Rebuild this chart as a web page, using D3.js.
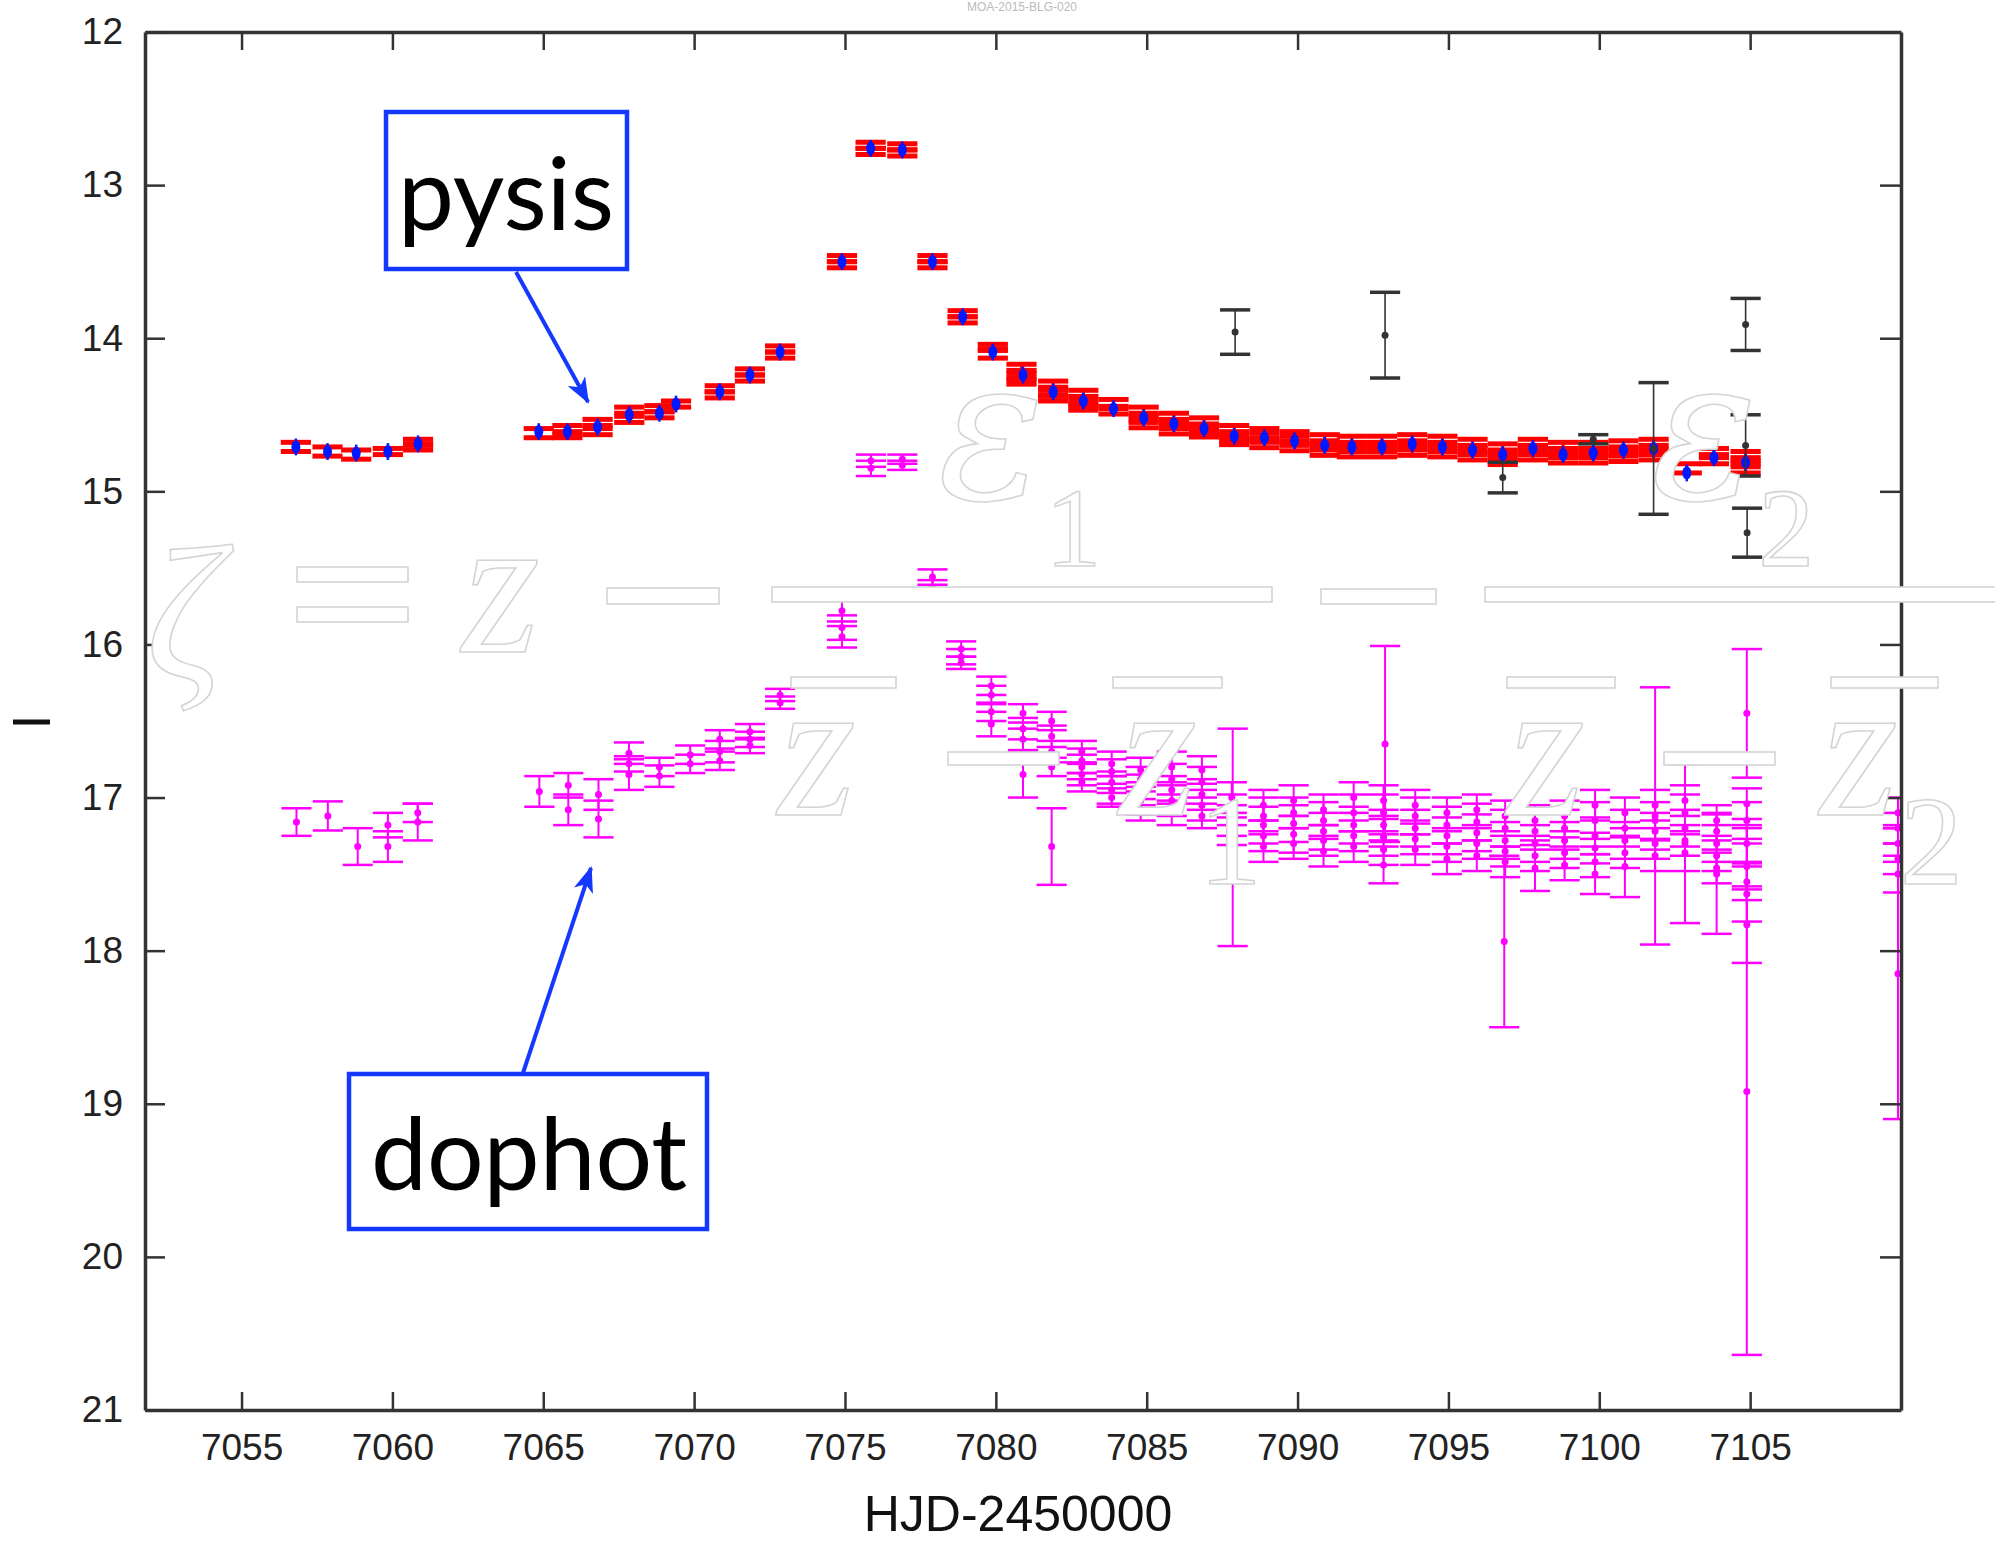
<!DOCTYPE html>
<html>
<head>
<meta charset="utf-8">
<script src="https://cdn.jsdelivr.net/npm/d3@7"></script>
<style>
  body { margin: 0; background: #fff; }
  svg { display: block; }
  .axis text { font-family: "Liberation Sans", Arial, sans-serif; font-size: 37px; fill: #222; }
  .axis line { stroke: #333; stroke-width: 2.5; }
  .axis path { stroke: #333; stroke-width: 3.5; }
</style>
</head>
<body>
<svg id="svg01" width="1995" height="1541"></svg>
<script>

// tick labels
const xTicks = [7055, 7060, 7065, 7070, 7075, 7080, 7085, 7090, 7095, 7100, 7105]
const yTicks = [12, 13, 14, 15, 16, 17, 18, 19, 20, 21]

// pysis (red) : [HJD-2450000, I, err]
const pysisRed = [
  [7056.8,14.71,0.03],[7057.85,14.74,0.03],[7058.8,14.76,0.03],[7059.85,14.74,0.02],
  [7060.85,14.68,0.02],[7060.85,14.71,0.02],
  [7064.85,14.62,0.03],[7065.8,14.60,0.03],[7065.8,14.63,0.02],
  [7066.8,14.56,0.03],[7066.8,14.60,0.03],[7067.85,14.48,0.03],[7067.85,14.52,0.03],
  [7068.85,14.46,0.02],[7068.85,14.50,0.02],[7069.4,14.43,0.02],
  [7070.85,14.33,0.02],[7070.85,14.37,0.02],[7071.85,14.22,0.02],[7071.85,14.26,0.02],
  [7072.85,14.07,0.02],[7072.85,14.11,0.02],
  [7074.9,13.48,0.02],[7074.9,13.52,0.02],[7075.85,12.74,0.02],[7075.85,12.78,0.02],
  [7076.9,12.75,0.02],[7076.9,12.79,0.02],[7077.9,13.48,0.02],[7077.9,13.52,0.02],
  [7078.9,13.84,0.02],[7078.9,13.88,0.02],[7079.9,14.06,0.02],[7079.9,14.10,0.03],
  [7080.85,14.20,0.03],[7080.85,14.24,0.03],[7080.85,14.28,0.02],
  [7081.9,14.31,0.03],[7081.9,14.35,0.03],[7081.9,14.39,0.02],
  [7082.9,14.37,0.03],[7082.9,14.41,0.03],[7082.9,14.45,0.02],
  [7083.9,14.43,0.03],[7083.9,14.47,0.025],
  [7084.9,14.48,0.03],[7084.9,14.52,0.03],[7084.9,14.56,0.025],
  [7085.9,14.52,0.03],[7085.9,14.56,0.03],[7085.9,14.60,0.025],
  [7086.9,14.55,0.03],[7086.9,14.59,0.03],[7086.9,14.62,0.025],
  [7087.9,14.60,0.03],[7087.9,14.64,0.03],[7087.9,14.67,0.025],
  [7088.9,14.62,0.03],[7088.9,14.65,0.03],[7088.9,14.69,0.025],
  [7089.9,14.64,0.03],[7089.9,14.67,0.03],[7089.9,14.71,0.025],
  [7090.9,14.66,0.03],[7090.9,14.70,0.03],[7090.9,14.74,0.025],
  [7091.8,14.67,0.03],[7091.8,14.71,0.03],[7091.8,14.75,0.025],
  [7092.8,14.67,0.03],[7092.8,14.71,0.03],[7092.8,14.75,0.025],
  [7093.8,14.66,0.03],[7093.8,14.70,0.03],[7093.8,14.74,0.025],
  [7094.8,14.67,0.03],[7094.8,14.71,0.03],[7094.8,14.75,0.025],
  [7095.8,14.69,0.03],[7095.8,14.73,0.03],[7095.8,14.77,0.025],
  [7096.8,14.72,0.03],[7096.8,14.76,0.03],[7096.8,14.80,0.025],
  [7097.8,14.69,0.03],[7097.8,14.73,0.03],[7097.8,14.77,0.025],
  [7098.8,14.71,0.03],[7098.8,14.75,0.03],[7098.8,14.79,0.025],
  [7099.8,14.71,0.03],[7099.8,14.75,0.03],[7099.8,14.79,0.025],
  [7100.8,14.70,0.03],[7100.8,14.74,0.03],[7100.8,14.78,0.025],
  [7101.8,14.69,0.03],[7101.8,14.73,0.03],[7101.8,14.77,0.025],
  [7102.9,14.85,0.03],[7103.8,14.75,0.03],[7103.8,14.79,0.03],
  [7104.85,14.77,0.03],[7104.85,14.81,0.03],[7104.85,14.85,0.03]
]

// pysis (blue) : [HJD-2450000, I]
const pysisBlue = [
  [7056.8,14.71],[7057.85,14.74],[7058.8,14.75],[7059.85,14.74],[7060.85,14.69],
  [7064.85,14.61],[7065.8,14.61],[7066.8,14.58],[7067.85,14.50],[7068.85,14.49],[7069.4,14.43],
  [7070.85,14.35],[7071.85,14.24],[7072.85,14.09],
  [7074.9,13.50],[7075.85,12.76],[7076.9,12.77],[7077.9,13.50],[7078.9,13.86],[7079.9,14.09],
  [7080.9,14.24],[7081.9,14.35],[7082.9,14.41],[7083.9,14.46],[7084.9,14.52],[7085.9,14.56],
  [7086.9,14.59],[7087.9,14.64],[7088.9,14.65],[7089.9,14.67],[7090.9,14.70],[7091.8,14.71],
  [7092.8,14.71],[7093.8,14.69],[7094.8,14.71],[7095.8,14.73],[7096.8,14.76],[7097.8,14.72],
  [7098.8,14.76],[7099.8,14.75],[7100.8,14.73],[7101.8,14.72],[7102.9,14.88],[7103.8,14.78],
  [7104.85,14.81]
]

// other site (black) : [HJD-2450000, I, err]
const blackPts = [
  [7087.93,13.96,0.145],[7092.9,13.98,0.28],[7096.8,14.91,0.10],[7099.8,14.66,0.03],
  [7101.8,14.72,0.43],[7104.85,13.91,0.17],[7104.85,14.70,0.20],[7104.9,15.27,0.16]
]

// dophot (magenta) : [HJD-2450000, I, err]
const dophot = [
  [7056.82,17.16,0.09],[7057.86,17.12,0.095],[7058.85,17.32,0.12],
  [7059.85,17.18,0.08],[7059.85,17.32,0.10],[7060.84,17.10,0.06],[7060.84,17.16,0.12],
  [7064.87,16.96,0.10],[7065.83,16.92,0.08],[7065.83,17.08,0.10],
  [7066.83,16.98,0.10],[7066.83,17.14,0.12],
  [7067.84,16.71,0.07],[7067.84,16.78,0.05],[7067.84,16.85,0.10],
  [7068.85,16.80,0.06],[7068.85,16.86,0.07],[7069.87,16.72,0.06],[7069.87,16.78,0.06],
  [7070.85,16.62,0.06],[7070.85,16.70,0.07],[7070.85,16.76,0.06],
  [7071.85,16.57,0.05],[7071.85,16.62,0.05],[7071.85,16.66,0.05],
  [7072.85,16.33,0.04],[7072.85,16.38,0.04],
  [7074.9,15.78,0.07],[7074.9,15.89,0.08],[7074.9,15.95,0.07],
  [7075.86,14.80,0.04],[7075.86,14.85,0.05],[7076.9,14.79,0.03],[7076.9,14.83,0.03],
  [7077.9,15.56,0.05],[7077.9,15.63,0.05],
  [7078.85,16.03,0.05],[7078.85,16.08,0.05],[7078.85,16.12,0.04],
  [7079.85,16.27,0.06],[7079.85,16.33,0.06],[7079.85,16.44,0.06],[7079.85,16.52,0.08],
  [7080.9,16.45,0.06],[7080.9,16.55,0.07],[7080.9,16.62,0.07],[7080.9,16.85,0.15],
  [7081.85,16.50,0.06],[7081.85,16.60,0.07],[7081.85,16.70,0.07],[7081.85,16.80,0.06],[7081.85,17.32,0.25],
  [7082.85,16.70,0.07],[7082.85,16.76,0.08],[7082.85,16.80,0.08],[7082.85,16.85,0.07],[7082.85,16.90,0.06],
  [7083.84,16.78,0.08],[7083.84,16.83,0.08],[7083.84,16.90,0.07],[7083.84,16.95,0.09],[7083.84,17.00,0.06],
  [7084.8,16.82,0.08],[7084.8,16.88,0.08],[7084.8,16.95,0.10],[7084.8,17.02,0.09],[7084.8,17.08,0.07],
  [7085.83,16.80,0.10],[7085.83,16.88,0.10],[7085.83,16.95,0.09],[7085.83,17.02,0.10],[7085.83,17.10,0.08],
  [7086.83,16.82,0.09],[7086.83,16.90,0.10],[7086.83,16.98,0.10],[7086.83,17.05,0.10],[7086.83,17.12,0.08],
  [7087.82,17.00,0.10],[7087.82,17.08,0.10],[7087.82,17.15,0.10],[7087.82,17.22,0.09],[7087.85,17.26,0.71],
  [7088.87,17.05,0.10],[7088.87,17.12,0.12],[7088.87,17.18,0.12],[7088.87,17.25,0.10],[7088.87,17.32,0.10],
  [7089.87,17.02,0.10],[7089.87,17.10,0.10],[7089.87,17.17,0.12],[7089.87,17.24,0.12],[7089.87,17.30,0.10],
  [7090.86,17.08,0.10],[7090.86,17.15,0.12],[7090.86,17.22,0.12],[7090.86,17.28,0.10],[7090.86,17.35,0.10],
  [7091.86,17.00,0.10],[7091.86,17.10,0.12],[7091.86,17.18,0.12],[7091.86,17.25,0.10],[7091.86,17.32,0.10],
  [7092.85,17.02,0.10],[7092.85,17.10,0.12],[7092.85,17.18,0.10],[7092.85,17.26,0.12],[7092.85,17.34,0.10],
  [7092.85,17.44,0.12],[7092.9,16.65,0.64],
  [7093.9,17.05,0.10],[7093.9,17.12,0.12],[7093.9,17.20,0.12],[7093.9,17.27,0.10],[7093.9,17.34,0.10],
  [7094.95,17.10,0.10],[7094.95,17.18,0.12],[7094.95,17.25,0.12],[7094.95,17.32,0.10],[7094.95,17.40,0.10],
  [7095.94,17.08,0.10],[7095.94,17.16,0.12],[7095.94,17.23,0.12],[7095.94,17.30,0.10],[7095.94,17.38,0.10],
  [7096.88,17.12,0.10],[7096.88,17.20,0.12],[7096.88,17.28,0.12],[7096.88,17.35,0.10],[7096.88,17.42,0.10],
  [7096.85,17.94,0.56],
  [7097.87,17.15,0.10],[7097.87,17.22,0.12],[7097.87,17.30,0.12],[7097.87,17.38,0.10],[7097.87,17.46,0.15],
  [7098.85,17.12,0.10],[7098.85,17.20,0.12],[7098.85,17.28,0.12],[7098.85,17.36,0.10],[7098.85,17.44,0.10],
  [7099.86,17.05,0.10],[7099.86,17.15,0.12],[7099.86,17.25,0.12],[7099.86,17.33,0.10],[7099.86,17.42,0.10],
  [7099.86,17.50,0.13],
  [7100.85,17.10,0.10],[7100.85,17.20,0.12],[7100.85,17.28,0.12],[7100.85,17.36,0.10],[7100.85,17.45,0.20],
  [7101.85,17.05,0.10],[7101.85,17.15,0.12],[7101.85,17.22,0.12],[7101.85,17.30,0.10],[7101.85,17.38,0.10],
  [7101.85,17.12,0.84],
  [7102.84,17.02,0.10],[7102.84,17.10,0.12],[7102.84,17.20,0.12],[7102.84,17.28,0.10],[7102.84,17.36,0.12],
  [7102.84,17.30,0.52],
  [7103.89,17.15,0.10],[7103.89,17.22,0.12],[7103.89,17.30,0.12],[7103.89,17.38,0.10],[7103.89,17.46,0.10],
  [7103.89,17.50,0.39],
  [7104.89,17.04,0.10],[7104.89,17.15,0.12],[7104.89,17.30,0.12],[7104.89,17.45,0.15],[7104.89,17.55,0.12],
  [7104.89,17.63,0.18],[7104.89,17.83,0.25],[7104.89,16.45,0.42],[7104.89,18.92,1.72],
  [7109.9,17.10,0.10],[7109.9,17.20,0.10],[7109.9,17.30,0.12],[7109.9,17.40,0.10],
  [7109.9,17.50,0.12],[7109.9,18.15,0.95]
]

const margin = {top: 32, right: 94, bottom: 131, left: 145}
const width = 1995, height = 1541
const capHalf = 0.5   // cap half-width in days

const x = d3.scaleLinear()
    .domain([7051.8, 7110])
    .range([margin.left, width - margin.right])

const y = d3.scaleLinear()
    .domain([12, 21])
    .range([margin.top, height - margin.bottom])

const svg = d3.select("#svg01")

svg.append("defs").append("clipPath").attr("id", "plotclip")
  .append("rect")
    .attr("x", margin.left).attr("y", margin.top)
    .attr("width", width - margin.left - margin.right)
    .attr("height", height - margin.top - margin.bottom)

// faint title at the very top
svg.append("text")
    .attr("x", 1022).attr("y", 11)
    .attr("text-anchor", "middle")
    .attr("font-family", "Liberation Sans, Arial, sans-serif")
    .attr("font-size", 12).attr("fill", "#bbb")
    .text("MOA-2015-BLG-020")

const plot = svg.append("g").attr("clip-path", "url(#plotclip)")

function errbars(g, data, o) {
  const s = g.append("g").selectAll("g").data(data).join("g")
  s.append("line")
      .attr("x1", d => x(d[0])).attr("x2", d => x(d[0]))
      .attr("y1", d => y(d[1] - d[2])).attr("y2", d => y(d[1] + d[2]))
      .attr("stroke", o.color).attr("stroke-width", o.vw)
  for (const sgn of [-1, 1]) {
    s.append("line")
        .attr("x1", d => x(d[0] - capHalf)).attr("x2", d => x(d[0] + capHalf))
        .attr("y1", d => y(d[1] + sgn * d[2])).attr("y2", d => y(d[1] + sgn * d[2]))
        .attr("stroke", o.color).attr("stroke-width", o.cw)
  }
  if (o.r) {
    s.append("circle")
        .attr("cx", d => x(d[0])).attr("cy", d => y(d[1]))
        .attr("r", o.r).attr("fill", o.color)
  }
}

// dophot
errbars(plot, dophot, {color: "#ff00ff", vw: 2, cw: 2.5, r: 3.5})

// pysis
errbars(plot, pysisRed, {color: "#ff0000", vw: 3, cw: 5, r: 0})

const blue = plot.append("g").selectAll("g").data(pysisBlue).join("g")
blue.append("line")
    .attr("x1", d => x(d[0])).attr("x2", d => x(d[0]))
    .attr("y1", d => y(d[1] - 0.055)).attr("y2", d => y(d[1] + 0.055))
    .attr("stroke", "#0018ff").attr("stroke-width", 2.5)
blue.append("ellipse")
    .attr("cx", d => x(d[0])).attr("cy", d => y(d[1]))
    .attr("rx", 4.5).attr("ry", 6.5).attr("fill", "#0018ff")

// black points
errbars(plot, blackPts, {color: "#333", vw: 1.6, cw: 3.5, r: 3.5})

// axes
svg.append("g").attr("class", "axis")
    .attr("transform", `translate(0,${y(21)})`)
    .call(d3.axisBottom(x).tickValues(xTicks).tickFormat(d3.format("d"))
      .tickSize(-18).tickSizeOuter(0).tickPadding(24))

svg.append("g").attr("class", "axis")
    .attr("transform", `translate(0,${y(12)})`)
    .call(d3.axisTop(x).tickValues(xTicks).tickSize(-18).tickSizeOuter(0).tickFormat(""))
    .call(g => g.selectAll(".tick line").filter(d => d === 7080).attr("stroke", "#ddd"))

svg.append("g").attr("class", "axis")
    .attr("transform", `translate(${x(7051.8)},0)`)
    .call(d3.axisLeft(y).tickValues(yTicks).tickSize(-20).tickSizeOuter(0).tickPadding(22))

svg.append("g").attr("class", "axis")
    .attr("transform", `translate(${x(7110)},0)`)
    .call(d3.axisRight(y).tickValues(yTicks).tickSize(-21).tickSizeOuter(0).tickFormat(""))
    .call(g => g.select(".domain").attr("stroke", "#888").attr("stroke-width", 2))

// axis titles
svg.append("text")
    .attr("x", 1018).attr("y", 1531)
    .attr("text-anchor", "middle")
    .attr("font-family", "Liberation Sans, Arial, sans-serif")
    .attr("font-size", 50).attr("fill", "#111")
    .text("HJD-2450000")

svg.append("text")
    .attr("transform", "translate(50,722) rotate(-90)")
    .attr("text-anchor", "middle")
    .attr("font-family", "Liberation Sans, Arial, sans-serif")
    .attr("font-size", 54).attr("fill", "#111")
    .text("I")

// lens equation overlay (white glyphs, light outline)
const eq = svg.append("g")
    .attr("fill", "#fff").attr("stroke", "#d4d4d4").attr("stroke-width", 1.6)
    .attr("font-family", "Liberation Serif, Times New Roman, serif")

// glyph, optional subscript (sub, subSize, dx, dy)
const glyphs = [
  {t: "\u03b6", x: 146, y: 678, s: 190},
  {t: "z", x: 462, y: 652, s: 200},
  {t: "\u03b5", x: 938, y: 498, s: 198, f: "DejaVu Serif", sub: "1", ss: 112, dx: 1, dy: 68},
  {t: "z", x: 778, y: 815, s: 200},
  {t: "z", x: 1119, y: 815, s: 200, sub: "1", ss: 126, dx: 2, dy: 69},
  {t: "\u03b5", x: 1651, y: 498, s: 198, f: "DejaVu Serif", sub: "2", ss: 112, dx: 1, dy: 68},
  {t: "z", x: 1507, y: 815, s: 200},
  {t: "z", x: 1820, y: 815, s: 200, sub: "2", ss: 126, dx: 2, dy: 69}
]
const gt = eq.selectAll("text").data(glyphs).join("text")
    .attr("x", d => d.x).attr("y", d => d.y)
gt.append("tspan")
    .attr("font-size", d => d.s)
    .attr("font-style", "italic")
    .attr("font-family", d => d.f || null)
    .text(d => d.t)
gt.filter(d => d.sub).append("tspan")
    .attr("font-size", d => d.ss)
    .attr("font-family", "Liberation Serif, serif")
    .attr("dx", d => d.dx).attr("dy", d => d.dy)
    .text(d => d.sub)

const bars = [
  [297, 567, 111, 15], [297, 607, 111, 15],      // =
  [607, 588, 112, 16],                            // minus
  [772, 587, 500, 15],                            // fraction bar 1
  [791, 677, 105, 11], [948, 752, 111, 13], [1113, 677, 109, 11],
  [1321, 589, 115, 15],                           // minus
  [1485, 587, 520, 15],                           // fraction bar 2
  [1507, 677, 108, 11], [1664, 752, 111, 13], [1831, 677, 107, 11]
]
eq.selectAll("rect").data(bars).join("rect")
    .attr("x", d => d[0]).attr("y", d => d[1])
    .attr("width", d => d[2]).attr("height", d => d[3])

// annotation boxes and arrows
const blueC = "#1538ff"
const defs = svg.select("defs")
defs.append("marker").attr("id", "arr")
    .attr("markerUnits", "userSpaceOnUse")
    .attr("viewBox", "0 0 26 20").attr("markerWidth", 26).attr("markerHeight", 20)
    .attr("refX", 24).attr("refY", 10).attr("orient", "auto")
  .append("path").attr("d", "M0,0 L26,10 L0,20 L7,10 Z").attr("fill", blueC)

const ann = svg.append("g")
ann.append("line").attr("x1", 516).attr("y1", 272).attr("x2", 588).attr("y2", 402)
    .attr("stroke", blueC).attr("stroke-width", 4).attr("marker-end", "url(#arr)")
ann.append("line").attr("x1", 522).attr("y1", 1076).attr("x2", 591).attr("y2", 868)
    .attr("stroke", blueC).attr("stroke-width", 4).attr("marker-end", "url(#arr)")

ann.append("rect").attr("x", 386).attr("y", 112).attr("width", 241).attr("height", 157)
    .attr("fill", "#fff").attr("stroke", blueC).attr("stroke-width", 4.5)
ann.append("rect").attr("x", 349).attr("y", 1074).attr("width", 358).attr("height", 155)
    .attr("fill", "#fff").attr("stroke", blueC).attr("stroke-width", 4.5)

ann.append("text").attr("x", 506).attr("y", 230)
    .attr("text-anchor", "middle").attr("font-family", "Lato, sans-serif")
    .attr("font-size", 100).attr("fill", "#000").text("pysis")
ann.append("text").attr("x", 529).attr("y", 1190)
    .attr("text-anchor", "middle").attr("font-family", "Lato, sans-serif")
    .attr("font-size", 100).attr("fill", "#000").text("dophot")

</script>
</body>
</html>
